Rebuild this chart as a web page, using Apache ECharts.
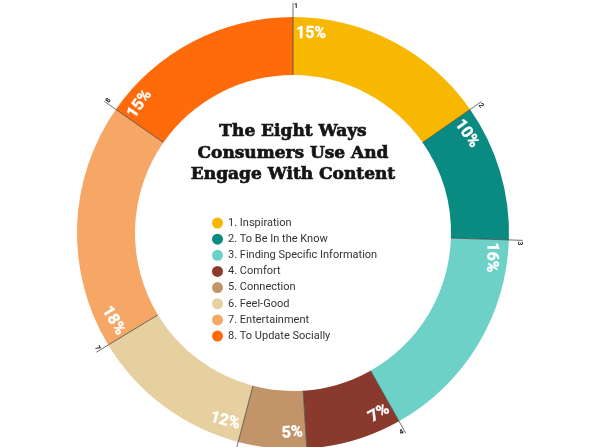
<!DOCTYPE html>
<html><head><meta charset="utf-8">
<script src="https://cdn.jsdelivr.net/npm/echarts@6/dist/echarts.min.js"></script>
<style>html,body{margin:0;padding:0;background:#fff}#c{width:600px;height:447px}</style>
</head><body><div id="c"></div>
<script>
const categories = ['1. Inspiration', '2. To Be In the Know', '3. Finding Specific Information', '4. Comfort', '5. Connection', '6. Feel-Good', '7. Entertainment', '8. To Update Socially'];
const shares = [15, 10, 16, 7, 5, 12, 18, 15];
const shareLabels = ['15%', '10%', '16%', '7%', '5%', '12%', '18%', '15%'];
const markerLabels = ['1', '2', '3', '4', '5', '6', '7', '8'];
const sliceColors = ['#F8B700', '#0A8B81', '#6DD1C8', '#8A3A2C', '#C3946A', '#E6D09F', '#F6A766', '#FF6A0A'];
const titleLines = ['The Eight Ways', 'Consumers Use And', 'Engage With Content'];

const chart = echarts.init(document.getElementById('c'), null, {renderer: 'canvas'});
chart.setOption({
  animation: false,
  backgroundColor: '#ffffff',
  title: {
    text: titleLines.join('\n'), left: 293, top: 121, textAlign: 'center', padding: 0,
    textStyle: {fontFamily: 'DejaVu Serif', fontWeight: 'bold', fontSize: 17, lineHeight: 21.5, color: '#151515',
      textBorderColor: '#151515', textBorderWidth: 0.7}
  },
  legend: {
    orient: 'vertical', left: 212, top: 217.5, padding: 0, itemWidth: 11, itemHeight: 11, itemGap: 5.15,
    icon: 'circle', selectedMode: false, data: categories,
    textStyle: {fontFamily: 'Roboto', fontSize: 11, color: '#333333'}
  },
  series: [{
    type: 'pie', center: [293, 233], radius: [158, 216], startAngle: 90, clockwise: true,
    silent: true, label: {show: false}, labelLine: {show: false}, itemStyle: {borderWidth: 0},
    data: categories.map((n, i) => ({name: n, value: shares[i], itemStyle: {color: sliceColors[i]}}))
  }]
});

const sData = chart.getModel().getSeriesByIndex(0).getData();
const mctx = document.createElement('canvas').getContext('2d');
const labelFont = 'bold 16px Roboto';
mctx.font = labelFont;
const gfx = [];
function rotFor(phi) {
  let rot = phi;
  if (phi > 110 && phi <= 270) rot = phi - 180;
  else if (phi > 270) rot = phi - 360;
  return -rot * Math.PI / 180;
}
for (let i = 0; i < shares.length; i++) {
  const L = sData.getItemLayout(i);
  const a = L.startAngle;
  const cx = L.cx, cy = L.cy, r = L.r, r0 = L.r0;
  let phi = ((a + Math.PI / 2) * 180 / Math.PI) % 360;
  if (phi < 0) phi += 360;
  gfx.push({type: 'line', z: 100, silent: true,
    shape: {x1: cx + r0 * Math.cos(a), y1: cy + r0 * Math.sin(a), x2: cx + (r + 14) * Math.cos(a), y2: cy + (r + 14) * Math.sin(a)},
    style: {stroke: '#4a4a4a', lineWidth: 0.8}});
  const am = a + 3 / (r + 10);
  gfx.push({type: 'text', z: 100, silent: true, x: cx + (r + 11) * Math.cos(am), y: cy + (r + 11) * Math.sin(am), rotation: rotFor(phi),
    style: {text: markerLabels[i], fill: '#222', font: 'bold 7px Roboto', align: 'center', verticalAlign: 'middle', textAlign: 'center', textVerticalAlign: 'middle'}});
  const w = mctx.measureText(shareLabels[i]).width;
  const rl = 200;
  const al = a + (w / 2 + 3) / rl;
  gfx.push({type: 'text', z: 100, silent: true, x: cx + rl * Math.cos(al), y: cy + rl * Math.sin(al), rotation: rotFor(phi),
    style: {text: shareLabels[i], fill: '#ffffff', font: labelFont, align: 'center', verticalAlign: 'middle', textAlign: 'center', textVerticalAlign: 'middle',
      stroke: '#ffffff', lineWidth: 0.4}});
}
chart.setOption({graphic: {elements: gfx}});
</script>
</body></html>
